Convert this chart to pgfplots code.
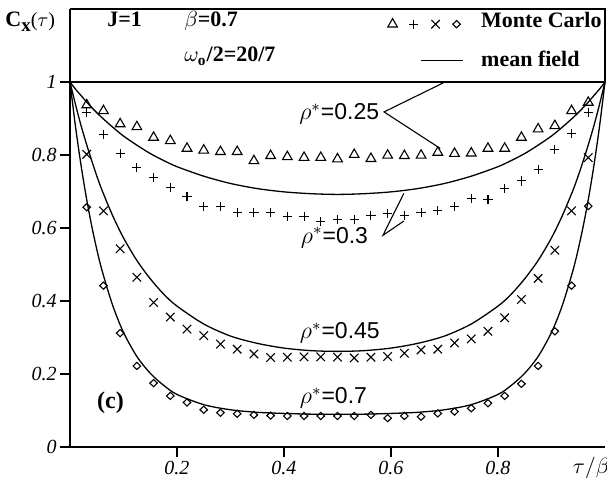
\documentclass[border=0pt]{standalone}
\usepackage{fontspec}
\setmainfont{Liberation Serif}
\newfontfamily\labelsans{Liberation Sans}
\usepackage{pgfplots}
\pgfplotsset{compat=1.18}
\usepackage{pgfplotstable}
\usetikzlibrary{calc}

% Monte Carlo estimates of C_x(tau) at tau/beta = k/32
\pgfplotstableread{
x        tri    plus   cross  diam
0.03125  0.937  0.917  0.802  0.657
0.06250  0.921  0.857  0.647  0.442
0.09375  0.885  0.804  0.543  0.312
0.12500  0.877  0.766  0.465  0.222
0.15625  0.848  0.738  0.396  0.175
0.18750  0.839  0.712  0.356  0.140
0.21875  0.818  0.686  0.323  0.122
0.25000  0.813  0.660  0.305  0.102
0.28125  0.809  0.658  0.282  0.094
0.31250  0.809  0.642  0.268  0.091
0.34375  0.784  0.642  0.255  0.088
0.37500  0.798  0.642  0.245  0.086
0.40625  0.795  0.631  0.246  0.085
0.43750  0.793  0.632  0.247  0.085
0.46875  0.793  0.617  0.247  0.085
0.50000  0.789  0.623  0.246  0.085
0.53125  0.801  0.624  0.244  0.085
0.56250  0.790  0.635  0.246  0.088
0.59375  0.799  0.640  0.248  0.079
0.62500  0.798  0.635  0.257  0.085
0.65625  0.799  0.642  0.266  0.083
0.68750  0.807  0.647  0.268  0.092
0.71875  0.804  0.660  0.285  0.097
0.75000  0.805  0.680  0.296  0.106
0.78125  0.818  0.677  0.317  0.120
0.81250  0.818  0.708  0.354  0.140
0.84375  0.848  0.729  0.404  0.173
0.87500  0.871  0.761  0.462  0.222
0.90625  0.880  0.816  0.539  0.317
0.93750  0.921  0.860  0.647  0.442
0.96875  0.944  0.917  0.793  0.660
}\mcdata

% mean-field curves for rho* = 0.3 (A), 0.45 (B), 0.7 (C)
\pgfplotstableread{
x      A      B      C
0.000  1.000  1.000  1.000
0.010  0.981  0.940  0.881
0.020  0.964  0.884  0.778
0.030  0.947  0.834  0.688
0.040  0.931  0.787  0.610
0.050  0.916  0.743  0.542
0.060  0.902  0.703  0.483
0.080  0.876  0.633  0.387
0.100  0.852  0.573  0.314
0.125  0.827  0.511  0.248
0.150  0.804  0.461  0.202
0.175  0.785  0.419  0.169
0.200  0.768  0.386  0.144
0.250  0.742  0.337  0.116
0.300  0.722  0.304  0.102
0.350  0.708  0.284  0.095
0.400  0.699  0.271  0.092
0.450  0.694  0.264  0.090
0.500  0.692  0.262  0.090
0.550  0.694  0.264  0.090
0.600  0.699  0.271  0.092
0.650  0.708  0.284  0.095
0.700  0.722  0.304  0.102
0.750  0.742  0.337  0.116
0.800  0.768  0.386  0.144
0.825  0.785  0.419  0.169
0.850  0.804  0.461  0.202
0.875  0.827  0.511  0.248
0.900  0.852  0.573  0.314
0.920  0.876  0.633  0.387
0.940  0.902  0.703  0.483
0.950  0.916  0.743  0.542
0.960  0.931  0.787  0.610
0.970  0.947  0.834  0.688
0.980  0.964  0.884  0.778
0.990  0.981  0.940  0.881
1.000  1.000  1.000  1.000
}\mfdata

\begin{document}
\begin{tikzpicture}
\begin{axis}[
  name=ax,
  scale only axis,
  width=267.5pt, height=219pt,
  xmin=0, xmax=1, ymin=0, ymax=1.2,
  axis x line*=bottom, axis y line*=left,
  axis line style={line width=0.6pt},
  xtick={0.2,0.4,0.6,0.8},
  ytick={0,0.2,0.4,0.6,0.8,1},
  tick align=outside,
  major tick length=5pt,
  tick style={black, line width=0.6pt},
  /pgf/number format/assume math mode=true,
  ticklabel style={font=\itshape\fontsize{10}{12}\selectfont},
  yticklabel style={inner sep=1.5pt},
  xticklabel style={inner sep=2pt},
  clip=false,
  legend cell align=left,
  legend style={draw=none, fill=none, inner sep=0pt,
    at={(axis cs:0.591,1.194)}, anchor=north west,
    font=\bfseries\fontsize{11}{13}\selectfont,
    row sep=10.7pt,
    nodes={inner sep=0pt, text height=8pt, text depth=0pt},
    /tikz/every odd column/.append style={column sep=9pt}},
]
% legend keys
\addlegendimage{legend image code/.code={
  \path[draw=none, fill=none] (0pt,-4pt) rectangle (38pt,4pt);
  \draw[line width=0.55pt] plot[only marks, mark=triangle, mark size=2.8pt] coordinates {(3pt,-2.3pt)};
  \draw[line width=0.55pt] plot[only marks, mark=+, mark size=2.3pt] coordinates {(13.5pt,-2.3pt)};
  \draw[line width=0.55pt] plot[only marks, mark=x, mark size=3pt] coordinates {(24.5pt,-2.3pt)};
  \draw[line width=0.55pt] plot[only marks, mark=diamond, mark size=1.8pt, mark options={xscale=1.4}] coordinates {(35pt,-2.3pt)};
}}
\addlegendentry{Monte Carlo}
\addlegendimage{legend image code/.code={
  \path[draw=none, fill=none] (0pt,-4pt) rectangle (38pt,4pt);
  \draw[line width=0.65pt] (17pt,-1.2pt) -- (38pt,-1.2pt);
}}
\addlegendentry{mean field}

% mean-field curves
\addplot[forget plot, black, line width=0.65pt] coordinates {(0,1) (1,1)};
\addplot[forget plot, black, line width=0.65pt, smooth] table[x=x, y=A] {\mfdata};
\addplot[forget plot, black, line width=0.65pt, smooth] table[x=x, y=B] {\mfdata};
\addplot[forget plot, black, line width=0.65pt, smooth] table[x=x, y=C] {\mfdata};

% Monte Carlo points
\addplot[forget plot, only marks, mark=triangle, mark size=2.8pt, mark options={line width=0.55pt}] table[x=x, y=tri] {\mcdata};
\addplot[forget plot, only marks, mark=+, mark size=2.3pt, mark options={line width=0.55pt}] table[x=x, y=plus] {\mcdata};
\addplot[forget plot, only marks, mark=x, mark size=3pt, mark options={line width=0.55pt}] table[x=x, y=cross] {\mcdata};
\addplot[forget plot, only marks, mark=diamond, mark size=1.8pt, mark options={line width=0.55pt, xscale=1.4}] table[x=x, y=diam] {\mcdata};

% header frame
\draw[line width=0.6pt] (axis cs:0,1.2) -- (axis cs:1,1.2) -- (axis cs:1,1);

% header text
\node[anchor=base west, inner sep=0pt] at (axis cs:-0.1215,1.151)
  {\fontsize{11}{13}\selectfont\bfseries C\raisebox{-2.5pt}{\fontsize{9.5}{10}\selectfont x}\mdseries\fontsize{10}{12}\selectfont($\tau$)};
\node[anchor=base west, inner sep=0pt, font=\bfseries\fontsize{11}{13}\selectfont] at (axis cs:0.069,1.151) {J=1};
\node[anchor=base west, inner sep=0pt, font=\bfseries\fontsize{11}{13}\selectfont] at (axis cs:0.213,1.151) {$\beta$=0.7};
\node[anchor=base west, inner sep=0pt, font=\bfseries\fontsize{11}{13}\selectfont] at (axis cs:0.213,1.055) {$\omega_{\mathbf{o}}$/2=20/7};

% curve labels with leaders
\node[anchor=west, inner sep=0pt, font=\labelsans\fontsize{11.5}{13}\selectfont] at (axis cs:0.428,0.912) {$\rho^*$=0.25};
\draw[line width=0.55pt] (axis cs:0.701,1.0) -- (axis cs:0.587,0.918) -- (axis cs:0.692,0.818);
\node[anchor=west, inner sep=0pt, font=\labelsans\fontsize{11.5}{13}\selectfont] at (axis cs:0.431,0.574) {$\rho^*$=0.3};
\draw[line width=0.55pt] (axis cs:0.624,0.695) -- (axis cs:0.585,0.580) -- (axis cs:0.624,0.619);
\node[anchor=west, inner sep=0pt, font=\labelsans\fontsize{11.5}{13}\selectfont] at (axis cs:0.429,0.312) {$\rho^*$=0.45};
\node[anchor=west, inner sep=0pt, font=\labelsans\fontsize{11.5}{13}\selectfont] at (axis cs:0.429,0.134) {$\rho^*$=0.7};
\node[anchor=west, inner sep=0pt, font=\bfseries\fontsize{12}{14}\selectfont] at (axis cs:0.05,0.121) {(c)};

% axis title
\node[inner sep=0pt, font=\fontsize{11}{13}\selectfont] at (axis cs:0.974,-0.058) {$\tau/\beta$};
\end{axis}
\pgfresetboundingbox
\path ($(ax.south west)+(-35pt,-15.5pt)$) rectangle ($(ax.south west)+(268.5pt,223.5pt)$);
\end{tikzpicture}
\end{document}
